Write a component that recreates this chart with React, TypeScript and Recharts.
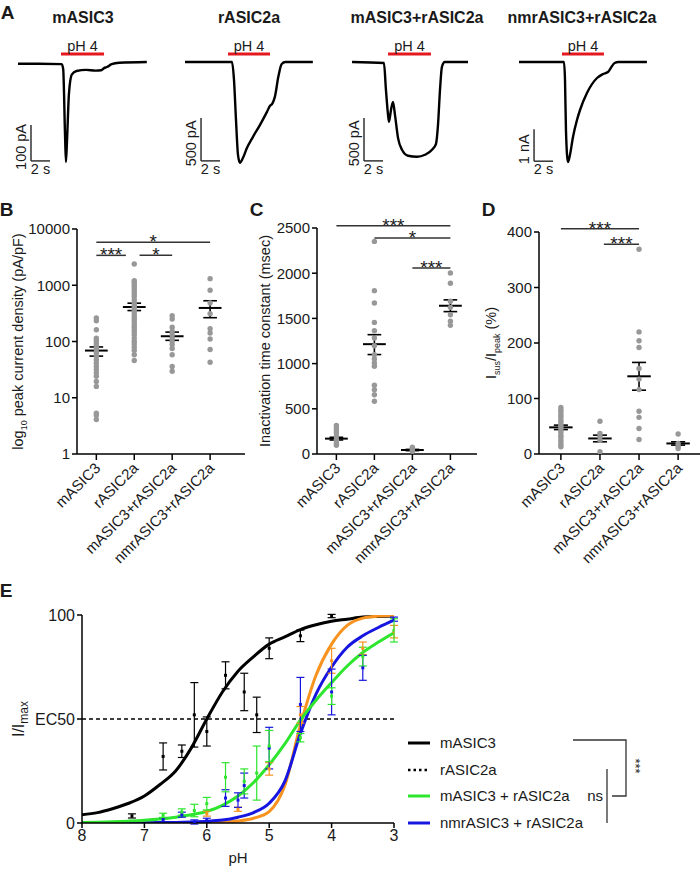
import React from 'react';
import {
  LineChart,
  Line,
  ScatterChart,
  Scatter,
  ComposedChart,
  XAxis,
  YAxis,
  ReferenceLine,
  ErrorBar,
} from 'recharts';

const FONT = '"Liberation Sans", Arial, sans-serif';
const INK = '#1a1a1a';

// ---------- panel A: example current traces (time in s, current in pA) ----------
const TRACE1_T = [0.84, 3.0, 5.45, 5.6, 5.79, 5.89, 6.0, 6.2, 6.5, 7.0, 8.0, 9.0, 9.6, 9.9, 10.2, 10.7, 11.5, 14.4];
const TRACE1_I = [-5, -5, -6, -20, -200, -278, -220, -90, -35, -25, -22, -24, -23, -17, -14, -6, -2, 0];
const TRACE2_T = [0.84, 5.79, 6.0, 6.21, 6.42, 6.63, 6.95, 7.37, 8.0, 8.74, 9.47, 9.79, 10.0, 10.14, 10.3, 10.67, 11.02, 11.4, 14.3];
const TRACE2_I = [0, 0, -209, -673, -1079, -1172, -1114, -998, -870, -731, -580, -510, -490, -460, -406, -170, -23, 0, 0];
const TRACE3_T = [0.74, 4.1, 4.31, 4.53, 4.63, 4.84, 5.05, 5.26, 5.58, 6.0, 6.63, 7.58, 8.42, 9.16, 9.58, 9.79, 10.0, 10.2, 10.5, 12.95];
const TRACE3_I = [0, -12, -325, -615, -696, -557, -464, -615, -882, -1021, -1090, -1102, -1079, -1021, -951, -731, -325, -58, 0, 0];
const TRACE4_T = [0.74, 5.47, 5.58, 5.68, 5.89, 6.1, 6.42, 6.84, 7.16, 7.89, 8.95, 9.58, 10.1, 10.4, 10.8, 11.2, 14.2];
const TRACE4_I = [0, 0, -563, -2125, -3125, -2906, -2344, -1813, -1500, -969, -500, -375, -313, -188, -31, 0, 0];

// ---------- panels B-D ----------
const GROUPS = ['mASIC3', 'rASIC2a', 'mASIC3+rASIC2a', 'nmrASIC3+rASIC2a'];

const DENSITY = [
  [262, 234, 162, 115, 105, 94, 85, 77, 72, 62.5, 54.5, 47.5, 41.5, 36, 31.6, 27.5, 24, 19.5, 15.9, 5.3, 4.9, 4.1],
  [2390, 1206, 1143, 1052, 957, 869, 780, 699, 635, 554, 483, 439, 405, 368, 335, 300, 269, 245, 222, 199, 179, 162, 147, 132, 115, 101, 90, 79, 69, 58, 46],
  [288, 251, 179, 152, 132, 115, 101, 88, 75, 58, 36, 29.5],
  [1310, 813, 483, 313, 169, 142, 111, 72, 42.7],
];
const DENSITY_MEAN = [69, 410, 124, 395];
const DENSITY_LO = [55, 355, 105, 265];
const DENSITY_HI = [80, 480, 147, 530];

const TAU = [
  [317, 288, 258, 232, 195, 159, 122, 96],
  [2352, 1807, 1670, 1456, 1364, 1283, 1198, 1099, 1051, 1007, 970, 760, 712, 656, 583],
  [74, 59, 44, 30],
  [2002, 1888, 1689, 1622, 1541, 1468, 1423],
];
const TAU_MEAN = [170, 1215, 44, 1640];
const TAU_LO = [155, 1100, 37, 1575];
const TAU_HI = [185, 1320, 51, 1705];

const SUS = [
  [84, 79, 75, 70, 66, 61, 57, 52, 48, 43, 39, 34, 30, 25, 20, 16, 13],
  [59, 37, 31, 25, 4],
  [369, 220, 204, 192, 154, 135, 116, 77, 66, 46, 26],
  [36, 19, 14, 10],
];
const SUS_MEAN = [48, 28, 140, 19];
const SUS_LO = [44, 22, 115, 16];
const SUS_HI = [52, 34, 165, 22];

// ---------- panel E ----------
const PH_GRID = [8, 7.75, 7.5, 7.25, 7, 6.75, 6.5, 6.25, 6, 5.75, 5.5, 5.25, 5, 4.75, 4.5, 4.25, 4, 3.75, 3.5, 3.25, 3];
const FIT_MASIC3 = [4, 5, 7, 9.5, 13, 18.5, 25, 36, 50, 63, 73, 80, 86, 89.5, 93, 95.3, 97, 98, 99, 99.3, 99.5];
const FIT_RASIC2A = [0, 0, 0, 0, 0, 0, 0.1, 0.1, 0.2, 0.4, 1, 2.3, 5.5, 18, 47, 71, 86, 95, 98.5, 99.5, 99.8];
const FIT_NMR = [0, 0, 0, 0, 0.1, 0.2, 0.3, 0.5, 0.8, 1.4, 2.8, 5, 9.5, 20, 43, 62, 75, 84.5, 90, 94, 97.5];
const FIT_MIX = [0.3, 0.4, 0.6, 0.9, 1.3, 1.9, 2.8, 4, 5.5, 8.5, 13, 19.5, 28, 38, 49.5, 59, 67.5, 75.5, 82, 87, 91.5];

const M3_PH = [7.2, 6.7, 6.4, 6.2, 6.0, 5.7, 5.4, 5.2, 5.0, 4.5, 4.0];
const M3_V = [3.4, 32, 34.5, 52, 44, 71, 63, 52, 84, 90, 99.5];
const M3_E = [1, 6.5, 3, 15.5, 7, 6.5, 9, 8.5, 5, 2.8, 0.8];
const R2_PH = [6.0, 5.5, 5.0, 4.5, 4.0, 3.5, 3.0];
const R2_V = [4.5, 6.6, 26, 52, 78, 84, 92];
const R2_E = [1.2, 1, 3, 4, 6, 3, 3];
const NMR_PH = [6.7, 6.4, 6.2, 6.0, 5.7, 5.5, 5.4, 5.0, 4.5, 4.0, 3.5, 3.0];
const NMR_V = [1.6, 4, 0.5, 1.3, 12, 11, 18, 36, 57, 63, 74.6, 98];
const NMR_E = [1, 1.2, 1, 1, 4, 3.5, 6, 10, 13, 11, 6, 1];
const MIX_PH = [6.7, 6.4, 6.2, 6.0, 5.7, 5.4, 5.2, 5.0, 4.5, 4.0, 3.5, 3.0];
const MIX_V = [3.7, 5.3, 6, 9.3, 22, 20, 24, 37, 41, 61, 80, 92.6];
const MIX_E = [1, 1.5, 3, 3, 7, 6, 13, 7.5, 2, 4, 4.5, 5.6];

const C_BLACK = '#000000';
const C_ORANGE = '#F7931E';
const C_BLUE = '#1616E0';
const C_GREEN = '#2DE62D';

const Txt = ({ x, y, s = 15, b = false, children }: any) => (
  <div
    style={{
      position: 'absolute',
      left: x,
      top: y,
      transform: 'translate(-50%, -50%)',
      fontSize: s,
      fontWeight: b ? 700 : 400,
      lineHeight: 1,
      whiteSpace: 'nowrap',
      color: INK,
    }}
  >
    {children}
  </div>
);

const SideLabel = ({ viewBox, text }: any) => {
  const x = viewBox.x - 5;
  const y = viewBox.y + viewBox.height / 2 + 4;
  return (
    <text x={x} y={y} transform={`rotate(-90 ${x} ${y})`} textAnchor="middle" fontSize={14.5} fill={INK}>
      {text}
    </text>
  );
};

const PX_PER_S = 9.5;

function Trace({ left, t, i, k, ph, bar, unit }: any) {
  const data = t.map((tt: number, j: number) => ({ t: tt, i: i[j] }));
  return (
    <div style={{ position: 'absolute', left, top: 26 }}>
      <LineChart width={165} height={154} data={data} margin={{ top: 14, right: 0, bottom: 0, left: 0 }}>
        <XAxis type="number" dataKey="t" domain={[0, 165 / PX_PER_S]} hide allowDataOverflow />
        <YAxis type="number" domain={[-118 * k, 22 * k]} hide allowDataOverflow />
        <ReferenceLine
          segment={[{ x: ph[0], y: 8 * k }, { x: ph[1], y: 8 * k }]}
          stroke="#E3191F"
          strokeWidth={3}
          label={{ value: 'pH 4', position: 'top', offset: 3, fontSize: 14.5, fill: INK }}
        />
        <ReferenceLine
          segment={[{ x: bar[0], y: bar[1] }, { x: bar[0], y: bar[2] }]}
          stroke="#333"
          strokeWidth={1.5}
          label={<SideLabel text={unit} />}
        />
        <ReferenceLine
          segment={[{ x: bar[0], y: bar[1] }, { x: bar[0] + 2, y: bar[1] }]}
          stroke="#333"
          strokeWidth={1.5}
          label={{ value: '2 s', position: 'bottom', offset: 3, fontSize: 14.5, fill: INK }}
        />
        <Line type="monotone" dataKey="i" stroke="#000" strokeWidth={2.4} dot={false} isAnimationActive={false} />
      </LineChart>
    </div>
  );
}

const AngledTick = ({ x, y, payload }: any) => {
  const ax = x + 5;
  const ay = y + 7;
  return (
    <text x={ax} y={ay} transform={`rotate(-45 ${ax} ${ay})`} textAnchor="end" fontSize={15} fill={INK}>
      {GROUPS[payload.value]}
    </text>
  );
};

const Stars = ({ viewBox, text }: any) => (
  <text x={viewBox.x + viewBox.width / 2} y={viewBox.y + 6} textAnchor="middle" fontSize={19} fill={INK}>
    {text}
  </text>
);

const RotLabel = ({ viewBox, dx, children }: any) => {
  const x = viewBox.x + dx;
  const y = viewBox.y + viewBox.height / 2;
  return (
    <text x={x} y={y} transform={`rotate(-90 ${x} ${y})`} textAnchor="middle" fontSize={14.5} fill={INK}>
      {children}
    </text>
  );
};

const Dot = (p: any) => <circle cx={p.cx} cy={p.cy} r={2.7} fill="#989898" />;

const axisStyle = { stroke: '#000', strokeWidth: 1.5 };

function DotPanel({ left, width, yWidth, top, xDomain, values, mean, lo, hi, sigs, yProps, label }: any) {
  const dots = values.flatMap((col: number[], g: number) => col.map((v) => ({ x: g, y: v })));
  return (
    <div style={{ position: 'absolute', left, top: 210 }}>
      <ScatterChart width={width} height={370} margin={{ top, right: 0, bottom: 0, left: 0 }}>
        <XAxis
          type="number"
          dataKey="x"
          domain={xDomain}
          ticks={[0, 1, 2, 3]}
          interval={0}
          allowDataOverflow
          height={126}
          tick={<AngledTick />}
          tickSize={6}
          axisLine={axisStyle}
          tickLine={axisStyle}
        />
        <YAxis
          type="number"
          dataKey="y"
          width={yWidth}
          allowDataOverflow
          tick={{ fontSize: 15, fill: INK }}
          tickSize={5}
          axisLine={axisStyle}
          tickLine={axisStyle}
          label={label}
          {...yProps}
        />
        <Scatter data={dots} shape={Dot} isAnimationActive={false} />
        {mean.map((m: number, g: number) => (
          <React.Fragment key={g}>
            <ReferenceLine segment={[{ x: g - 0.3, y: m }, { x: g + 0.3, y: m }]} stroke="#000" strokeWidth={2} />
            <ReferenceLine segment={[{ x: g - 0.18, y: hi[g] }, { x: g + 0.18, y: hi[g] }]} stroke="#000" strokeWidth={1.6} />
            <ReferenceLine segment={[{ x: g - 0.18, y: lo[g] }, { x: g + 0.18, y: lo[g] }]} stroke="#000" strokeWidth={1.6} />
            <ReferenceLine segment={[{ x: g, y: lo[g] }, { x: g, y: hi[g] }]} stroke="#000" strokeWidth={1.6} />
          </React.Fragment>
        ))}
        {sigs.map((s: any, j: number) => (
          <ReferenceLine
            key={`s${j}`}
            segment={[{ x: s.from, y: s.y }, { x: s.to, y: s.y }]}
            stroke="#333"
            strokeWidth={1.5}
            ifOverflow="visible"
            label={<Stars text={s.text} />}
          />
        ))}
      </ScatterChart>
    </div>
  );
}

const toPts = (ph: number[], v: number[], e: number[]) => ph.map((p, j) => ({ ph: p, v: v[j], e: e[j] }));

const Sq = (color: string) => (p: any) => <rect x={p.cx - 1.5} y={p.cy - 1.5} width={3} height={3} fill={color} />;

export default function App() {
  const fit = PH_GRID.map((p, j) => ({
    ph: p,
    m3: FIT_MASIC3[j],
    r2: FIT_RASIC2A[j],
    nmr: FIT_NMR[j],
    mix: FIT_MIX[j],
  }));
  const pointSets = [
    { pts: toPts(R2_PH, R2_V, R2_E), color: C_ORANGE },
    { pts: toPts(NMR_PH, NMR_V, NMR_E), color: C_BLUE },
    { pts: toPts(MIX_PH, MIX_V, MIX_E), color: C_GREEN },
    { pts: toPts(M3_PH, M3_V, M3_E), color: C_BLACK },
  ];

  return (
    <div
      style={{
        position: 'absolute',
        left: 0,
        top: 0,
        width: 700,
        height: 874,
        background: '#fff',
        fontFamily: FONT,
        color: INK,
        overflow: 'hidden',
      }}
    >
      {/* panel letters */}
      <Txt x={7.5} y={11.5} s={19} b>A</Txt>
      <Txt x={6.5} y={208.5} s={19} b>B</Txt>
      <Txt x={256.5} y={208.5} s={19} b>C</Txt>
      <Txt x={488.5} y={208.5} s={19} b>D</Txt>
      <Txt x={6} y={590} s={19} b>E</Txt>

      {/* A: traces */}
      <Txt x={83} y={18} s={16} b>mASIC3</Txt>
      <Txt x={249} y={18} s={16} b>rASIC2a</Txt>
      <Txt x={417} y={18} s={16} b>mASIC3+rASIC2a</Txt>
      <Txt x={582} y={18} s={16} b>nmrASIC3+rASIC2a</Txt>
      <Trace left={10} t={TRACE1_T} i={TRACE1_I} k={2.78} ph={[5.37, 9.9]} bar={[2.21, -275, -175]} unit="100 pA" />
      <Trace left={177} t={TRACE2_T} i={TRACE2_I} k={11.63} ph={[5.37, 9.79]} bar={[2.53, -1150, -650]} unit="500 pA" />
      <Trace left={345} t={TRACE3_T} i={TRACE3_I} k={11.63} ph={[4.53, 9.05]} bar={[2.0, -1150, -650]} unit="500 pA" />
      <Trace left={512} t={TRACE4_T} i={TRACE4_I} k={31.25} ph={[5.26, 9.68]} bar={[2.32, -3100, -2100]} unit="1 nA" />

      {/* B: peak current density */}
      <DotPanel
        left={0}
        width={245}
        yWidth={77}
        top={19}
        xDomain={[-0.51, 3.92]}
        values={DENSITY}
        mean={DENSITY_MEAN}
        lo={DENSITY_LO}
        hi={DENSITY_HI}
        sigs={[
          { from: 0, to: 3, y: 5800, text: '*' },
          { from: 0, to: 0.78, y: 3400, text: '***' },
          { from: 1.14, to: 2, y: 3400, text: '*' },
        ]}
        yProps={{ scale: 'log', domain: [1, 10000], ticks: [1, 10, 100, 1000, 10000] }}
        label={
          <RotLabel dx={23}>
            log<tspan fontSize={9} dy={4}>10</tspan>
            <tspan dy={-4}> peak current density (pA/pF)</tspan>
          </RotLabel>
        }
      />

      {/* C: inactivation time constant */}
      <DotPanel
        left={247}
        width={230}
        yWidth={70}
        top={18}
        xDomain={[-0.51, 3.7]}
        values={TAU}
        mean={TAU_MEAN}
        lo={TAU_LO}
        hi={TAU_HI}
        sigs={[
          { from: 0, to: 3, y: 2526, text: '***' },
          { from: 1, to: 3, y: 2390, text: '*' },
          { from: 2, to: 3, y: 2058, text: '***' },
        ]}
        yProps={{ domain: [0, 2500], ticks: [0, 500, 1000, 1500, 2000, 2500] }}
        label={<RotLabel dx={23}>Inactivation time constant (msec)</RotLabel>}
      />

      {/* D: sustained / peak */}
      <DotPanel
        left={469}
        width={231}
        yWidth={70}
        top={22}
        xDomain={[-0.56, 3.56]}
        values={SUS}
        mean={SUS_MEAN}
        lo={SUS_LO}
        hi={SUS_HI}
        sigs={[
          { from: 0, to: 2, y: 406, text: '***' },
          { from: 1.1, to: 2, y: 378, text: '***' },
        ]}
        yProps={{ domain: [0, 400], ticks: [0, 100, 200, 300, 400] }}
        label={
          <RotLabel dx={27}>
            I<tspan fontSize={9} dy={4}>sus</tspan>
            <tspan dy={-4}>/I</tspan>
            <tspan fontSize={9} dy={4}>peak</tspan>
            <tspan dy={-4}> (%)</tspan>
          </RotLabel>
        }
      />

      {/* E: pH dose-response */}
      <div style={{ position: 'absolute', left: 0, top: 600 }}>
        <ComposedChart width={404} height={273} margin={{ top: 15, right: 10, bottom: 0, left: 0 }}>
          <XAxis
            type="number"
            dataKey="ph"
            domain={[3, 8]}
            reversed
            allowDataOverflow
            ticks={[8, 7, 6, 5, 4, 3]}
            height={50}
            tick={{ fontSize: 16, fill: INK }}
            tickSize={5}
            axisLine={axisStyle}
            tickLine={axisStyle}
            label={{ value: 'pH', position: 'insideBottom', offset: 10, fontSize: 15, fill: INK }}
          />
          <YAxis
            type="number"
            domain={[0, 100]}
            ticks={[0, 50, 100]}
            allowDataOverflow
            width={82}
            tick={{ fontSize: 16, fill: INK }}
            tickSize={5}
            axisLine={axisStyle}
            tickLine={axisStyle}
            tickFormatter={(v: number) => (v === 50 ? 'EC50' : String(v))}
            label={
              <RotLabel dx={24}>
                <tspan fontSize={16}>I/I</tspan>
                <tspan fontSize={12} dy={4}>max</tspan>
              </RotLabel>
            }
          />
          <ReferenceLine y={50} stroke="#000" strokeWidth={1.5} strokeDasharray="4 3" />
          <Line data={fit} type="monotone" dataKey="m3" stroke={C_BLACK} strokeWidth={3} dot={false} isAnimationActive={false} />
          <Line data={fit} type="monotone" dataKey="r2" stroke={C_ORANGE} strokeWidth={3} dot={false} isAnimationActive={false} />
          <Line data={fit} type="monotone" dataKey="nmr" stroke={C_BLUE} strokeWidth={3} dot={false} isAnimationActive={false} />
          <Line data={fit} type="monotone" dataKey="mix" stroke={C_GREEN} strokeWidth={3} dot={false} isAnimationActive={false} />
          {pointSets.map((s, j) => (
            <Scatter key={j} data={s.pts} dataKey="v" shape={Sq(s.color)} isAnimationActive={false}>
              <ErrorBar dataKey="e" direction="y" width={4} stroke={s.color} strokeWidth={1.2} />
            </Scatter>
          ))}
        </ComposedChart>
      </div>

      {/* E legend and comparison brackets */}
      <svg style={{ position: 'absolute', left: 380, top: 720 }} width={320} height={120}>
        <line x1={28} y1={23} x2={50} y2={23} stroke={C_BLACK} strokeWidth={3} />
        <line x1={28} y1={50} x2={50} y2={50} stroke={C_BLACK} strokeWidth={2.5} strokeDasharray="2.5 3" />
        <line x1={28} y1={76} x2={50} y2={76} stroke={C_GREEN} strokeWidth={3} />
        <line x1={28} y1={103} x2={50} y2={103} stroke={C_BLUE} strokeWidth={3} />
        <g fontSize={15} fill={INK} fontFamily={FONT}>
          <text x={60} y={28}>mASIC3</text>
          <text x={60} y={55}>rASIC2a</text>
          <text x={60} y={81}>mASIC3 + rASIC2a</text>
          <text x={60} y={108}>nmrASIC3 + rASIC2a</text>
          <text x={223} y={81} textAnchor="end">ns</text>
        </g>
        <polyline points="193,20 246,20 246,76 232,76" fill="none" stroke="#333" strokeWidth={1.3} />
        <line x1={227} y1={49} x2={227} y2={103} stroke="#333" strokeWidth={1.3} />
        <text x={251} y={46} transform="rotate(90 251 46)" textAnchor="middle" fontSize={13} fill={INK} fontFamily={FONT}>
          ***
        </text>
      </svg>
    </div>
  );
}
